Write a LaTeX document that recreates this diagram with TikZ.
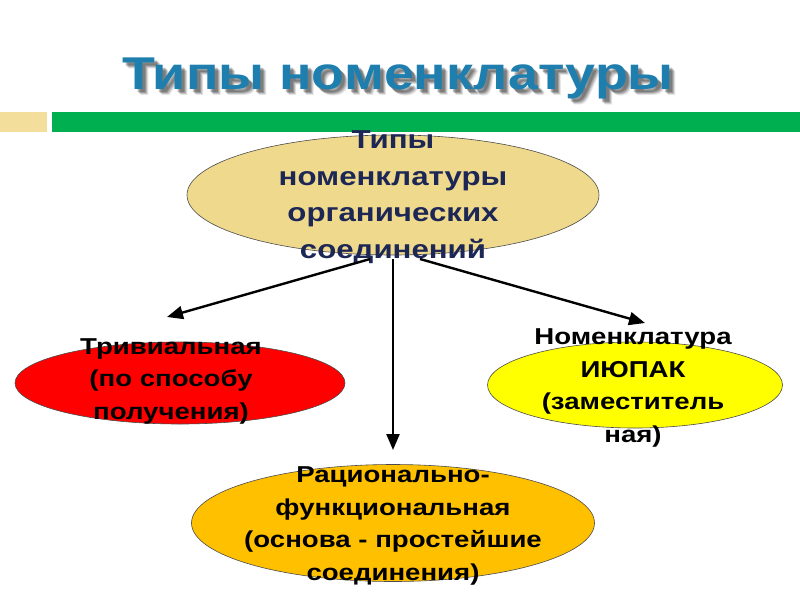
\documentclass[tikz,border=0pt]{standalone}
\usepackage{fontspec}
\setmainfont{Liberation Sans}
\newfontfamily\widefont[FakeStretch=1.2]{Liberation Sans}
\newfontfamily\titlefont[FakeStretch=1.17]{Liberation Sans}
\usetikzlibrary{shapes.geometric,arrows.meta}
\definecolor{barbeige}{HTML}{F3DE9C}
\definecolor{bargreen}{HTML}{00B050}
\definecolor{titleblue}{HTML}{1E7FAE}
\definecolor{khaki}{HTML}{EFD98C}
\definecolor{navy}{HTML}{1C2755}
\definecolor{ovred}{HTML}{FF0000}
\definecolor{ovyellow}{HTML}{FFFF00}
\definecolor{ovorange}{HTML}{FFC000}
\begin{document}
\begin{tikzpicture}[x=1pt,y=-1pt,
  oval/.style={ellipse, draw=black!70, line width=0.6pt, inner sep=0pt},
  lbl/.style={align=center, font=\widefont\bfseries\fontsize{23}{32.5}\selectfont},
  toplbl/.style={align=center, text=navy, font=\widefont\bfseries\fontsize{26}{36.5}\selectfont},
  ttl/.style={font=\titlefont\bfseries\fontsize{46}{50}\selectfont},
  arr/.style={line width=2.4pt, -{Triangle[length=16pt,width=13pt]}}]
\useasboundingbox (0,0) rectangle (800,600);
\fill[white] (0,0) rectangle (800,600);
\fill[barbeige] (0,112) rectangle (47,132);
\fill[bargreen] (52,112) rectangle (800,132);
% title with shadow
\foreach \d/\o in {6/0.1,5/0.15,4/0.2,3/0.2}{
  \node[ttl, text=black, opacity=\o] at (398+\d,78+\d) {Типы номенклатуры};
}
\node[ttl, text=titleblue] (title) at (398,78) {Типы номенклатуры};
% ovals
\node[oval, fill=khaki, minimum width=412pt, minimum height=120pt] (top) at (393,195) {};
\node[oval, fill=ovred, minimum width=330pt, minimum height=82pt] (triv) at (180,383) {};
\node[oval, fill=ovyellow, minimum width=295pt, minimum height=86pt] (iupac) at (635,385) {};
\node[oval, fill=ovorange, minimum width=403pt, minimum height=117pt] (rat) at (393,523) {};
% texts
\node[toplbl] (toptext) at (393,197) {Типы\\номенклатуры\\органических\\соединений};
\node[lbl] (trivtext) at (171,381) {Тривиальная\\(по способу\\получения)};
\node[lbl] (iupactext) at (633,388) {Номенклатура\\ИЮПАК\\(заместитель\\ная)};
\node[lbl] (rattext) at (393,526) {Рационально-\\функциональная\\(основа - простейшие\\соединения)};
% arrows
\coordinate (sl) at (370,259);
\coordinate (sm) at (393,259);
\coordinate (sr) at (420,259);
\coordinate (el) at (167,317);
\coordinate (em) at (393,450);
\coordinate (er) at (645,323);
\draw[arr] (sl) -- (el);
\draw[arr] (sm) -- (em);
\draw[arr] (sr) -- (er);
\end{tikzpicture}
\end{document}
